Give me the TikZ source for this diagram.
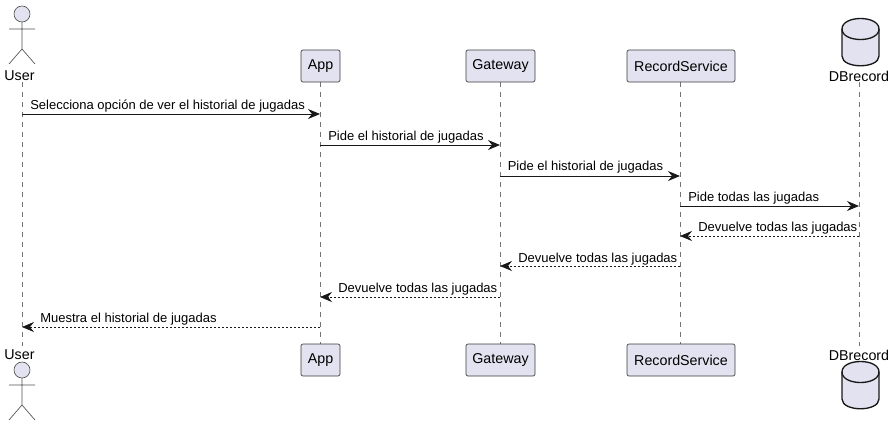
\documentclass[tikz,border=0pt]{standalone}
\usepackage{fontspec}
\setmainfont{Liberation Sans}
\usetikzlibrary{arrows.meta}
\definecolor{partfill}{HTML}{E2E2F0}
\definecolor{partline}{HTML}{181818}
\tikzset{
  box/.style={draw=partline!85, fill=partfill, line width=0.5pt, rounded corners=1.5pt, minimum height=24pt, inner sep=0pt, font=\fontsize{10.7}{12}\selectfont},
  partname/.style={inner sep=0pt, font=\fontsize{10.7}{12}\selectfont},
  msg/.style={inner sep=0pt, font=\fontsize{9.75}{11}\selectfont},
  lifeline/.style={draw=partline!60, line width=0.4pt, dash pattern=on 3.75pt off 3.75pt},
  actorline/.style={draw=partline!75, line width=0.5pt},
  dbline/.style={draw=partline, fill=partfill, line width=1pt},
  arrow/.style={draw=partline, line width=0.75pt, -{Stealth[length=9pt,width=7.5pt,inset=3pt]}},
  retarrow/.style={arrow, line width=0.5pt, dash pattern=on 1.5pt off 1.5pt}
}
\begin{document}
\begin{tikzpicture}[x=0.75pt,y=-0.75pt]
  \useasboundingbox (0,0) rectangle (894,426);
  % points where the messages meet the lifelines
  \foreach \who/\x in {user/22,app/320,gate/500,rec/680,db/859}
    \foreach \n/\y in {0/82,1/114,2/145,3/176,4/206,5/236,6/266,7/297,8/327,9/346}
      \coordinate (\who\n) at (\x,\y);

  % lifelines
  \foreach \who in {user,app,gate,rec,db}
    \draw[lifeline] (\who0) -- (\who9);

  % participants, top
  \node[partname] (usert) at (19.5,76) {User};
  \node[box, minimum width=29.25pt] (appt) at (320.5,66) {\raisebox{-0.75pt}{App}};
  \node[box, minimum width=51.75pt] (gatet) at (500.5,66) {\raisebox{-0.75pt}{Gateway}};
  \node[box, minimum width=81pt] (rect) at (681,66) {\raisebox{-0.75pt}{RecordService}};
  \node[partname] (dbt) at (859,76) {DBrecord};
  % participants, bottom
  \node[partname] (userb) at (19.5,355) {User};
  \node[box, minimum width=29.25pt] (appb) at (320.5,360) {\raisebox{-0.75pt}{App}};
  \node[box, minimum width=51.75pt] (gateb) at (500.5,360) {\raisebox{-0.75pt}{Gateway}};
  \node[box, minimum width=81pt] (recb) at (681,360) {\raisebox{-0.75pt}{RecordService}};
  \node[partname] (dbb) at (859,355) {DBrecord};

  % actor, top and bottom
  \foreach \y in {0,356}{
    \draw[actorline, fill=partfill] (22,14+\y) circle (8);
    \draw[actorline] (22,22+\y) -- (22,49+\y) (9,29+\y) -- (35,29+\y) (9,64+\y) -- (22,49+\y) -- (35,64+\y);
  }

  % database, top and bottom
  \foreach \y in {0,343}{
    \draw[dbline] (842,29+\y) .. controls (842,15+\y) and (879,15+\y) .. (879,29+\y) -- (879,56+\y) .. controls (879,69+\y) and (842,69+\y) .. (842,56+\y) -- cycle;
    \draw[dbline, fill=none] (842,29+\y) .. controls (842,43+\y) and (879,43+\y) .. (879,29+\y);
  }

  % messages
  \draw[arrow] (user1) -- (app1);
  \draw[arrow] (app2) -- (gate2);
  \draw[arrow] (gate3) -- (rec3);
  \draw[arrow] (rec4) -- (db4);
  \draw[retarrow] (db5) -- (rec5);
  \draw[retarrow] (rec6) -- (gate6);
  \draw[retarrow] (gate7) -- (app7);
  \draw[retarrow] (app8) -- (user8);

  \node[msg, anchor=west] (m1) at (30,106.5) {Selecciona opción de ver el historial de jugadas};
  \node[msg, anchor=west] (m2) at (328,137) {Pide el historial de jugadas};
  \node[msg, anchor=west] (m3) at (507.5,167.5) {Pide el historial de jugadas};
  \node[msg, anchor=west] (m4) at (688,198) {Pide todas las jugadas};
  \node[msg, anchor=west] (m5) at (698,228.5) {Devuelve todas las jugadas};
  \node[msg, anchor=west] (m6) at (518,259) {Devuelve todas las jugadas};
  \node[msg, anchor=west] (m7) at (338,289.5) {Devuelve todas las jugadas};
  \node[msg, anchor=west] (m8) at (40,319.5) {Muestra el historial de jugadas};
\end{tikzpicture}
\end{document}
